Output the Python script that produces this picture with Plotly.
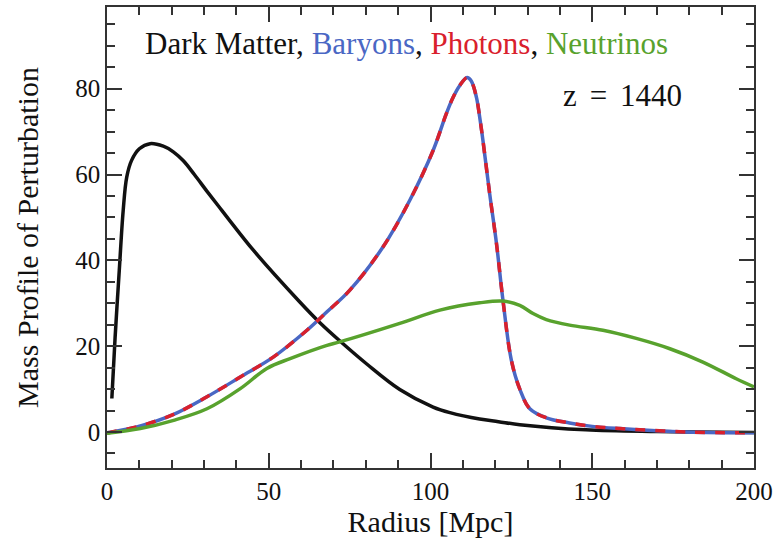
import plotly.graph_objects as go

# Dark matter
dm_r = [1.5, 2.5, 3.8, 5.0, 6.1, 7.6, 10.0, 13.3, 17.4, 20.5, 23.6, 27.0, 30.8, 34.5, 38.0, 45.3,
        59.6, 65.9, 72.0, 80.2, 90.5, 100.8, 106.0, 115.2, 121.0, 127.6, 148.0, 170.0, 200.0]
dm_m = [7.8, 22.0, 37.7, 51.6, 59.4, 63.3, 66.0, 67.2, 66.6, 65.3, 63.2, 60.0, 56.2, 52.6, 49.2, 42.3,
        30.3, 25.4, 21.2, 15.9, 9.9, 5.8, 4.5, 3.0, 2.4, 1.7, 0.5, 0.1, -0.1]

# Baryons (photons follow the same profile)
b_r = [0.0, 1.5, 10.3, 20.6, 30.9, 41.2, 51.5, 61.8, 68.0, 75.0, 85.3, 93.6, 100.8, 104.9, 107.0,
       109.0, 111.3, 112.6, 114.2, 115.2, 116.2, 118.3, 120.4, 122.4, 125.0, 127.6, 130.7, 135.8,
       143.0, 150.0, 158.5, 179.0, 200.0]
b_m = [-0.2, 0.0, 1.4, 4.1, 8.2, 12.8, 17.5, 23.7, 28.0, 33.0, 43.1, 54.0, 65.6, 74.2, 78.0,
       80.7, 82.6, 81.8, 78.0, 73.4, 68.0, 55.5, 43.9, 30.7, 16.7, 10.0, 5.4, 3.3,
       2.1, 1.3, 0.8, 0.0, -0.2]
p_r = list(b_r)
p_m = list(b_m)

# Neutrinos
n_r = [0.0, 10.3, 20.6, 30.9, 41.2, 49.4, 56.6, 68.0, 72.0, 90.5, 102.9, 115.2, 122.4,
       127.6, 131.7, 135.8, 143.0, 153.3, 163.6, 174.0, 184.2, 194.5, 200.0]
n_m = [-0.3, 0.8, 2.7, 5.4, 10.1, 14.8, 17.1, 20.2, 21.0, 25.3, 28.4, 30.1, 30.5,
       29.5, 27.6, 26.2, 24.9, 23.7, 21.8, 19.4, 16.3, 12.4, 10.5]

BLACK = "#111111"
BLUE = "#4a67c4"
RED = "#d9202c"
GREEN = "#58a22d"
FONT = "Liberation Serif"
AX = "#333333"

fig = go.Figure()
fig.add_trace(go.Scatter(x=dm_r, y=dm_m, mode="lines", line=dict(color=BLACK, width=3.5, shape="spline", smoothing=1.0)))
fig.add_trace(go.Scatter(x=b_r, y=b_m, mode="lines", line=dict(color=BLUE, width=3.5, shape="spline", smoothing=1.0)))
fig.add_trace(go.Scatter(x=p_r, y=p_m, mode="lines", line=dict(color=RED, width=3.5, dash="10px,10px", shape="spline", smoothing=1.0)))
fig.add_trace(go.Scatter(x=n_r, y=n_m, mode="lines", line=dict(color=GREEN, width=3.5, shape="spline", smoothing=1.0)))

fig.add_annotation(
    x=92.5, y=90.6, xref="x", yref="y", showarrow=False,
    text=("<span style='color:#111111'>Dark Matter, </span>"
          f"<span style='color:{BLUE}'>Baryons</span><span style='color:#111111'>, </span>"
          f"<span style='color:{RED}'>Photons</span><span style='color:#111111'>, </span>"
          f"<span style='color:{GREEN}'>Neutrinos</span>"),
    font=dict(family=FONT, size=31, color=BLACK),
)
fig.add_annotation(
    x=159.3, y=78.5, xref="x", yref="y", showarrow=False,
    text="z\u2004\u200a=\u2004\u200a1440", font=dict(family=FONT, size=31, color=BLACK),
)

axis_common = dict(
    showgrid=False, zeroline=False, showline=True, linecolor=AX, linewidth=1.5,
    mirror="allticks", ticks="inside", ticklen=15, tickwidth=1.5, tickcolor=AX,
    tickfont=dict(family=FONT, size=25, color="#111111"),
)

fig.update_layout(
    width=778, height=544,
    margin=dict(l=107, r=23.5, t=6.5, b=76.3),
    paper_bgcolor="white", plot_bgcolor="white",
    showlegend=False,
    xaxis=dict(range=[0, 200], tickvals=[0, 50, 100, 150, 200],
               minor=dict(dtick=10, tick0=0, ticklen=8, tickwidth=1.5, tickcolor=AX, ticks="inside"),
               title=dict(text="Radius [Mpc]", font=dict(family=FONT, size=30, color="#111111"), standoff=6),
               **axis_common),
    yaxis=dict(range=[-8.4, 99.05], tickvals=[0, 20, 40, 60, 80],
               minor=dict(dtick=5, tick0=0, ticklen=8, tickwidth=1.5, tickcolor=AX, ticks="inside"),
               title=dict(text="Mass Profile of Perturbation", font=dict(family=FONT, size=30, color="#111111"), standoff=28),
               **axis_common),
)

fig.write_html("out.html")
